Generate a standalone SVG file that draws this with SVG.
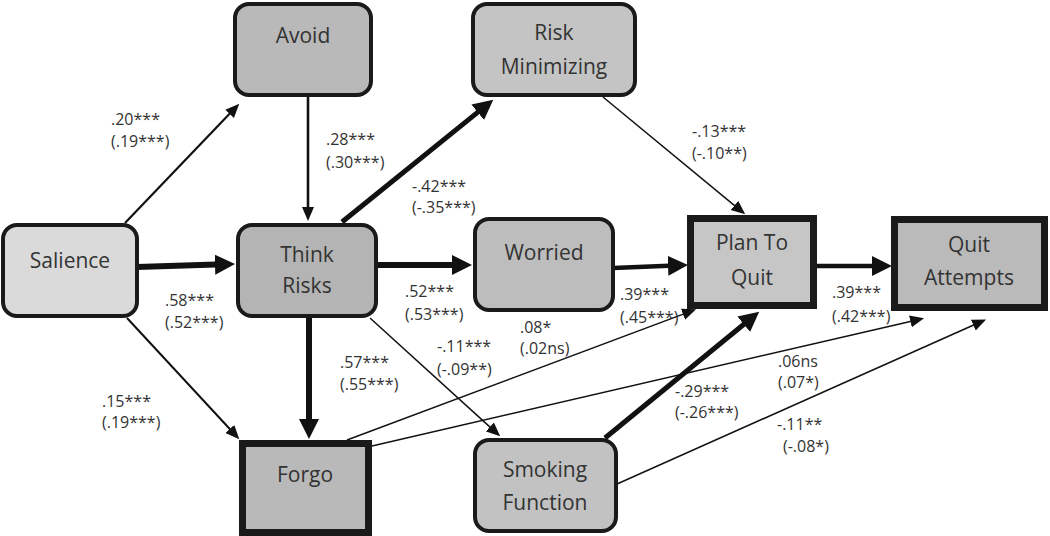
<svg xmlns="http://www.w3.org/2000/svg" width="1050" height="536" viewBox="0 0 1050 536">
<style>
.bg{fill:#ffffff}
.rn{stroke:#1a1a1a;stroke-width:4}
.sq{stroke:#1a1a1a;stroke-width:7}
.nt{font-family:"Open Sans","Liberation Sans",sans-serif;font-size:21px;fill:#333333;text-anchor:middle}
.lb{font-family:"Open Sans","Liberation Sans",sans-serif;font-size:16px;fill:#333333}
.e{stroke:#111111;fill:none}
</style>
<defs>
<marker id="s" markerUnits="userSpaceOnUse" markerWidth="15" markerHeight="13" refX="1" refY="6" orient="auto" viewBox="0 0 15 13">
<path d="M0,0 L14,6 L0,12 Z" fill="#111111"/>
</marker>
<marker id="l" markerUnits="userSpaceOnUse" markerWidth="21" markerHeight="21" refX="1" refY="10" orient="auto" viewBox="0 0 21 21">
<path d="M0,0 L20,10 L0,20 Z" fill="#111111"/>
</marker>
</defs>
<rect class="bg" x="0" y="0" width="1050" height="536"/>
<g id="connectors">
<line class="e" x1="125" y1="223" x2="230.3" y2="113.1" stroke-width="2.2" marker-end="url(#s)"/>
<line class="e" x1="308" y1="97" x2="308" y2="208" stroke-width="2.6" marker-end="url(#s)"/>
<line class="e" x1="137" y1="267" x2="216" y2="264.6" stroke-width="6" marker-end="url(#l)"/>
<line class="e" x1="342" y1="222" x2="478.5" y2="111.6" stroke-width="5" marker-end="url(#l)"/>
<line class="e" x1="376" y1="265" x2="453" y2="265" stroke-width="6" marker-end="url(#l)"/>
<line class="e" x1="309" y1="316" x2="309" y2="420" stroke-width="6" marker-end="url(#l)"/>
<line class="e" x1="370" y1="318" x2="490.6" y2="427.6" stroke-width="1.5" marker-end="url(#s)"/>
<line class="e" x1="127" y1="318" x2="230.5" y2="429.7" stroke-width="2" marker-end="url(#s)"/>
<line class="e" x1="603" y1="97" x2="735.2" y2="206.1" stroke-width="1.5" marker-end="url(#s)"/>
<line class="e" x1="613" y1="268" x2="669" y2="265.7" stroke-width="4.5" marker-end="url(#l)"/>
<line class="e" x1="815" y1="266" x2="873" y2="266" stroke-width="4.5" marker-end="url(#l)"/>
<line class="e" x1="347" y1="440" x2="683.9" y2="313.9" stroke-width="1.5" marker-end="url(#s)"/>
<line class="e" x1="372" y1="446" x2="911.4" y2="321.2" stroke-width="1.5" marker-end="url(#s)"/>
<line class="e" x1="605" y1="438" x2="744.5" y2="323.7" stroke-width="5" marker-end="url(#l)"/>
<line class="e" x1="617" y1="484" x2="974.2" y2="324.7" stroke-width="1.5" marker-end="url(#s)"/>
</g>
<g id="salience"><rect class="rn" x="3" y="225" width="134" height="91" rx="14" fill="#dadada"/><text class="nt" x="70" y="268">Salience</text></g>
<g id="avoid"><rect class="rn" x="235" y="4" width="136" height="91" rx="14" fill="#b9b9b9"/><text class="nt" x="303" y="43">Avoid</text></g>
<g id="think-risks"><rect class="rn" x="238" y="225" width="138" height="91" rx="14" fill="#b4b4b4"/><text class="nt" x="307" y="262">Think</text><text class="nt" x="307" y="293">Risks</text></g>
<g id="risk-minimizing"><rect class="rn" x="473" y="4" width="162" height="91" rx="14" fill="#c4c4c4"/><text class="nt" x="554" y="40">Risk</text><text class="nt" x="554" y="74">Minimizing</text></g>
<g id="worried"><rect class="rn" x="475" y="219" width="138" height="91" rx="14" fill="#bdbdbd"/><text class="nt" x="544" y="260">Worried</text></g>
<g id="smoking-function"><rect class="rn" x="475" y="440" width="141" height="91" rx="14" fill="#c2c2c2"/><text class="nt" x="545" y="477">Smoking</text><text class="nt" x="545" y="510">Function</text></g>
<g id="plan-to-quit"><rect class="sq" x="690.5" y="218.5" width="123" height="87" fill="#c6c6c6"/><text class="nt" x="752" y="250">Plan To</text><text class="nt" x="752" y="285">Quit</text></g>
<g id="quit-attempts"><rect class="sq" x="894.5" y="219.5" width="150" height="88" fill="#bababa"/><text class="nt" x="969" y="252">Quit</text><text class="nt" x="969" y="285">Attempts</text></g>
<g id="forgo"><rect class="sq" x="242.5" y="443.5" width="126" height="89" fill="#b9b9b9"/><text class="nt" x="305" y="482">Forgo</text></g>
<g id="labels">
<text class="lb" x="111" y="125">.20***</text><text class="lb" x="111" y="147">(.19***)</text>
<text class="lb" x="326" y="145">.28***</text><text class="lb" x="326" y="168">(.30***)</text>
<text class="lb" x="412" y="192">-.42***</text><text class="lb" x="412" y="213">(-.35***)</text>
<text class="lb" x="692" y="137">-.13***</text><text class="lb" x="692" y="159">(-.10**)</text>
<text class="lb" x="165" y="306">.58***</text><text class="lb" x="165" y="328">(.52***)</text>
<text class="lb" x="405" y="297">.52***</text><text class="lb" x="405" y="320">(.53***)</text>
<text class="lb" x="620" y="300">.39***</text><text class="lb" x="620" y="323">(.45***)</text>
<text class="lb" x="832" y="298">.39***</text><text class="lb" x="832" y="322">(.42***)</text>
<text class="lb" x="520" y="333">.08*</text><text class="lb" x="520" y="354">(.02ns)</text>
<text class="lb" x="437" y="352">-.11***</text><text class="lb" x="437" y="375">(-.09**)</text>
<text class="lb" x="340" y="368">.57***</text><text class="lb" x="340" y="390">(.55***)</text>
<text class="lb" x="102" y="407">.15***</text><text class="lb" x="102" y="428">(.19***)</text>
<text class="lb" x="675" y="397">-.29***</text><text class="lb" x="675" y="418">(-.26***)</text>
<text class="lb" x="778" y="367">.06ns</text><text class="lb" x="778" y="388">(.07*)</text>
<text class="lb" x="777" y="430">-.11**</text><text class="lb" x="783" y="452">(-.08*)</text>
</g>
</svg>
